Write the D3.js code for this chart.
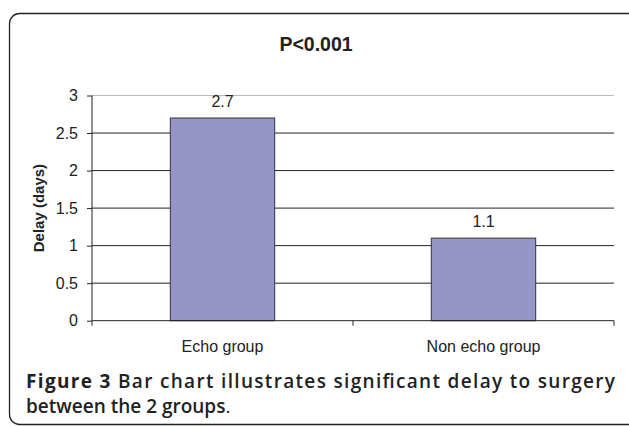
<!DOCTYPE html>
<html>
<head>
<meta charset="utf-8">
<script src="https://cdn.jsdelivr.net/npm/d3@7"></script>
<style>
  body { margin: 0; background: #fff; }
  svg { display: block; }
</style>
</head>
<body>
<svg id="chart" width="629" height="427"></svg>
<script>
const categories = ["Echo group", "Non echo group"];
const delays = [2.7, 1.1];
const yTicks = [0, 0.5, 1, 1.5, 2, 2.5, 3];

const svg = d3.select("#chart");
const font = "Liberation Sans, Arial, sans-serif";

// frame around figure
svg.append("rect")
  .attr("x", 9.5).attr("y", 13.5)
  .attr("width", 650).attr("height", 411)
  .attr("rx", 10)
  .attr("fill", "none")
  .attr("stroke", "#222")
  .attr("stroke-width", 1.3);

let plot_left = 92, plot_right = 614, plot_top = 95.5, plot_bottom = 320.7;

let x = d3.scaleBand().domain(categories).range([plot_left, plot_right]).paddingInner(0).paddingOuter(0);
let y = d3.scaleLinear().domain([0, 3]).range([plot_bottom, plot_top]);

// gridlines
svg.append("g")
  .selectAll("line")
  .data(yTicks.filter(t => t > 0))
  .join("line")
  .attr("x1", plot_left).attr("x2", plot_right)
  .attr("y1", d => y(d)).attr("y2", d => y(d))
  .attr("stroke", d => d === 3 ? "#bbb" : "#222")
  .attr("stroke-width", 1);

// bars
let barW = x.bandwidth() * 0.4;
svg.append("g")
  .selectAll("rect")
  .data(delays)
  .join("rect")
  .attr("x", (d, i) => x(categories[i]) + (x.bandwidth() - barW) / 2)
  .attr("y", d => y(d))
  .attr("width", barW)
  .attr("height", d => plot_bottom - y(d))
  .attr("fill", "#9595c8")
  .attr("stroke", "#333")
  .attr("stroke-width", 1);

// value labels
svg.append("g")
  .selectAll("text")
  .data(delays)
  .join("text")
  .attr("x", (d, i) => x(categories[i]) + x.bandwidth() / 2)
  .attr("y", d => y(d) - 11)
  .attr("text-anchor", "middle")
  .style("font-family", font)
  .style("font-size", "16px")
  .style("fill", "#222")
  .text(d => d);

// y axis
let yAxis = d3.axisLeft(y).tickValues(yTicks).tickSize(5).tickPadding(9).tickFormat(d => d);
let yg = svg.append("g").attr("transform", `translate(${plot_left},0)`).call(yAxis);
yg.select(".domain").remove();
yg.append("line").attr("x1", 0).attr("x2", 0).attr("y1", plot_top).attr("y2", plot_bottom + 5).attr("stroke", "#222");
yg.selectAll(".tick line").attr("stroke", "#222");
yg.selectAll("text")
  .style("font-family", font)
  .style("font-size", "16px")
  .style("fill", "#222");

// x axis
let xAxis = d3.axisBottom(x).tickSize(0).tickPadding(20);
let xg = svg.append("g").attr("transform", `translate(0,${plot_bottom})`).call(xAxis);
xg.select(".domain").attr("stroke", "#222").attr("d", `M${plot_left},0H${plot_right}`);
xg.selectAll("text")
  .style("font-family", font)
  .style("font-size", "16px")
  .style("fill", "#222");
// category boundary ticks
xg.append("g")
  .selectAll("line")
  .data(categories)
  .join("line")
  .attr("x1", d => x(d) + x.bandwidth()).attr("x2", d => x(d) + x.bandwidth())
  .attr("y1", 0).attr("y2", 5)
  .attr("stroke", "#222");

// title
svg.append("text")
  .attr("x", 316).attr("y", 51)
  .attr("text-anchor", "middle")
  .style("font-family", font)
  .style("font-size", "19.5px")
  .style("font-weight", "bold")
  .style("fill", "#222")
  .text("P<0.001");

// y label
svg.append("text")
  .attr("transform", `translate(44,${(plot_top + plot_bottom) / 2}) rotate(-90)`)
  .attr("text-anchor", "middle")
  .style("font-family", font)
  .style("font-size", "15px")
  .style("font-weight", "bold")
  .style("fill", "#222")
  .text("Delay (days)");

// caption
let cap = svg.append("text")
  .attr("x", 26).attr("y", 388)
  .style("font-family", "Open Sans, sans-serif")
  .style("font-size", "19px")
  .style("font-weight", "600")
  .style("fill", "#222")
  .attr("textLength", 589)
  .attr("lengthAdjust", "spacing");
cap.append("tspan").style("font-weight", "bold").text("Figure 3");
cap.append("tspan").text(" Bar chart illustrates significant delay to surgery");

svg.append("text")
  .attr("x", 26).attr("y", 413)
  .style("font-family", "Open Sans, sans-serif")
  .style("font-size", "19px")
  .style("font-weight", "600")
  .style("fill", "#222")
  .text("between the 2 groups")
  .append("tspan").style("font-weight", "normal").text(".");
</script>
</body>
</html>
